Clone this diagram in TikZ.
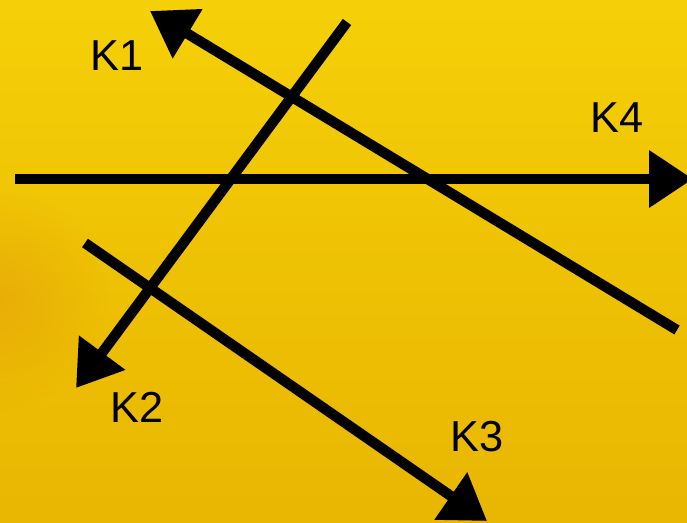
\documentclass[tikz,border=0pt]{standalone}
\usepackage{fontspec}
\setmainfont{Liberation Sans}
\usetikzlibrary{arrows.meta,fadings}

\definecolor{goldtop}{RGB}{245,208,8}
\definecolor{goldmid}{RGB}{238,194,4}
\definecolor{goldlow}{RGB}{233,182,2}
\definecolor{goldedge}{RGB}{230,158,10}

\tikzfading[name=softspot, inner color=transparent!45, outer color=transparent!100]

\tikzset{
	kline/.style={line width=0.31cm, black},
	karrow/.style={kline, -{Triangle[length=1.32cm, width=1.65cm]}},
	klabel/.style={inner sep=0pt, font=\fontsize{37}{40}\selectfont}
}

\begin{document}
\begin{tikzpicture}[x=0.03cm, y=-0.03cm]
	\useasboundingbox (0,0) rectangle (687,522);
	\clip (0,0) rectangle (687,522);

	% background
	\shade[top color=goldtop, bottom color=goldlow, middle color=goldmid] (0,0) rectangle (687,522);
	\fill[goldedge, path fading=softspot] (0,300) circle (110);

	\coordinate (k1a) at (677,330);
	\coordinate (k1b) at (150,11);
	\coordinate (k2a) at (347,22);
	\coordinate (k2b) at (76,388);
	\coordinate (k3a) at (85,243);
	\coordinate (k3b) at (487,521);
	\coordinate (k4a) at (15,179);
	\coordinate (k4b) at (693,179);

	\draw[karrow] (k1a) -- (k1b);
	\draw[karrow] (k2a) -- (k2b);
	\draw[karrow] (k3a) -- (k3b);
	\draw[karrow] (k4a) -- (k4b);

	\node[klabel] (lk1) at (117,56) {K1};
	\node[klabel] (lk2) at (137,407) {K2};
	\node[klabel] (lk3) at (477,437) {K3};
	\node[klabel] (lk4) at (617,118) {K4};
\end{tikzpicture}
\end{document}
